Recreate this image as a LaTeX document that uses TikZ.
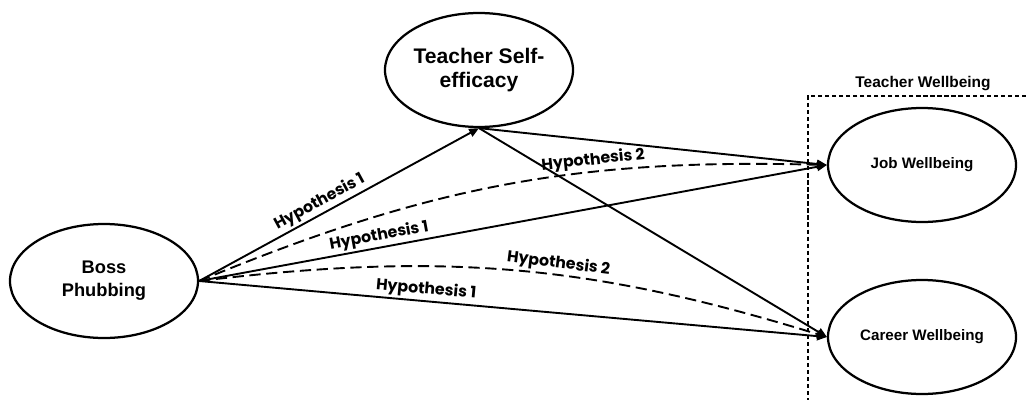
\documentclass[tikz,border=0pt]{standalone}
\usepackage{fontspec}
\setmainfont{Liberation Sans}
\newfontfamily\hypfont{Poppins}
\usetikzlibrary{shapes.geometric}
\usetikzlibrary{arrows.meta}
\usetikzlibrary{positioning}

\begin{document}
\begin{tikzpicture}[->, >={Triangle[length=7pt,width=6pt]}, line width=1.35pt]
	\tikzstyle{var}=[ellipse, draw, line width=1.6pt, minimum width=4.7cm, minimum height=2.85cm, inner sep=0pt, align=center]
	\tikzstyle{hyp}=[sloped, above, inner sep=1.5pt, font=\hypfont\bfseries\fontsize{11.2}{13}\selectfont]
	\tikzstyle{long dash}=[dash pattern=on 8pt off 4pt]
	\useasboundingbox (0,0) rectangle (25.7,9.975);

	\node[var, font=\bfseries\fontsize{13}{16.4}\selectfont] (boss) at (2.6,2.95) {Boss\\Phubbing};
	\node[var, font=\bfseries\fontsize{15}{17.7}\selectfont] (tse) at (11.975,8.225) {Teacher Self-\\efficacy};
	\node[var, font=\bfseries\fontsize{10.8}{13}\selectfont] (job) at (23.05,5.85) {Job Wellbeing};
	\node[var, font=\bfseries\fontsize{10.8}{13}\selectfont] (career) at (23.05,1.55) {Career Wellbeing};

	% teacher wellbeing group
	\coordinate (corner) at (20.2,7.575);
	\draw[-, densely dashed, line width=0.8pt] (corner -| 26,0) -- (corner) -- (corner |- 0,-0.5);
	\node[font=\bfseries\fontsize{11}{13}\selectfont] (tw) at (23.075,7.875) {Teacher Wellbeing};

	\draw (boss.east) -- node[hyp, pos=0.45] {Hypothesis 1} (tse.south);
	\draw[long dash] (boss.east) to[bend left=12] node[hyp, pos=0.65] {Hypothesis 2} (job.west);
	\draw (boss.east) -- node[hyp, pos=0.29] {Hypothesis 1} (job.west);
	\draw[long dash] (boss.east) to[bend left=12] node[hyp, pos=0.57] {Hypothesis 2} (career.west);
	\draw (boss.east) -- node[hyp, pos=0.36] {Hypothesis 1} (career.west);
	\draw (tse.south) -- (job.west);
	\draw (tse.south) -- (career.west);
\end{tikzpicture}
\end{document}
